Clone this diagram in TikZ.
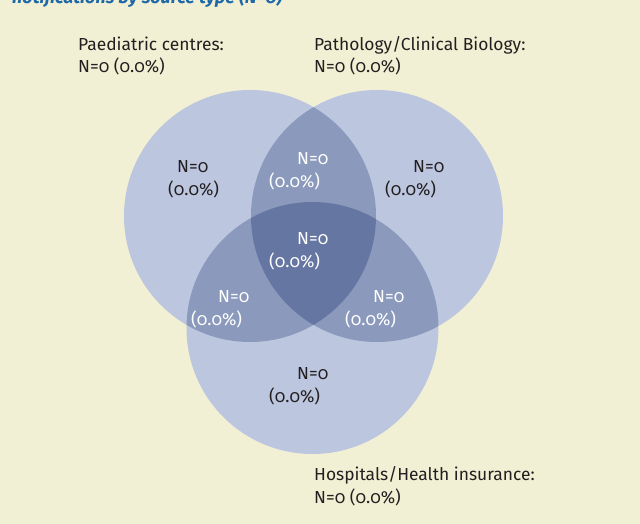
\documentclass[tikz,border=0pt]{standalone}
\usepackage{fontspec}
\setmainfont{Fira Sans}[Numbers=OldStyle]
\usepackage{xcolor}
\usetikzlibrary{positioning}
\definecolor{venncream}{HTML}{F2F0D4}
\definecolor{vennone}{HTML}{BDC6DF}
\definecolor{venntwo}{HTML}{8B99BC}
\definecolor{vennthree}{HTML}{6676A2}
\definecolor{venntext}{HTML}{231F20}
\definecolor{titleblue}{HTML}{1F68A8}

\begin{document}
\begin{tikzpicture}[
  x=1pt, y=-1pt,
  font=\fontsize{17.4}{22.5}\selectfont,
  setlabel/.style={align=left, anchor=base west, inner sep=0pt, text=venntext},
  cnt/.style={align=left, anchor=base west, inner sep=0pt, text=venntext},
  cntw/.style={cnt, text=white},
  ttl/.style={anchor=base west, inner sep=0pt, text=titleblue,
              font=\fontsize{18}{22}\selectfont\bfseries\itshape}
]
% ----- page and background -----
\useasboundingbox (0,0) rectangle (640,524);
\clip (0,0) rectangle (640,524);
\fill[venncream] (0,0) rectangle (640,524);
\node[ttl] (title) at (12,4) {notifications by source type (N=0)};
% ----- the three sets -----
\def\vennr{126}
\coordinate (paed) at (250,216);
\coordinate (path) at (377,216);
\coordinate (hosp) at (312.5,328);
\foreach \c in {paed, path, hosp}{\fill[vennone] (\c) circle[radius=\vennr];}
% ----- overlaps of two -----
\begin{scope}
  \clip (paed) circle[radius=\vennr];
  \fill[venntwo] (path) circle[radius=\vennr];
  \fill[venntwo] (hosp) circle[radius=\vennr];
\end{scope}
\begin{scope}
  \clip (path) circle[radius=\vennr];
  \fill[venntwo] (hosp) circle[radius=\vennr];
\end{scope}
% ----- overlap of all three -----
\begin{scope}
  \clip (paed) circle[radius=\vennr];
  \clip (path) circle[radius=\vennr];
  \fill[vennthree] (hosp) circle[radius=\vennr];
\end{scope}
% ----- set labels (anchor on the last line) -----
\node[setlabel] (paedlab) at (78,73) {Paediatric centres:\\N=0 (0.0\%)};
\node[setlabel] (pathlab) at (314,73) {Pathology/Clinical Biology:\\N=0 (0.0\%)};
\node[setlabel] (hosplab) at (314,503) {Hospitals/Health insurance:\\N=0 (0.0\%)};
% ----- counts per region -----
\node[cnt]  (onlypaed) at (168,195) {\hspace*{9pt}N=0\\(0.0\%)};
\node[cnt]  (onlypath) at (385,195) {\hspace*{28pt}N=0\\(0.0\%)};
\node[cnt]  (onlyhosp) at (269,402) {\hspace*{28pt}N=0\\(0.0\%)};
\node[cntw] (paedpath) at (269,187) {\hspace*{28pt}N=0\\(0.0\%)};
\node[cntw] (paedhosp) at (191,325) {\hspace*{27pt}N=0\\(0.0\%)};
\node[cntw] (pathhosp) at (345,325) {\hspace*{28pt}N=0\\(0.0\%)};
\node[cntw] (allthree) at (269,267) {\hspace*{28pt}N=0\\(0.0\%)};
\end{tikzpicture}
\end{document}
